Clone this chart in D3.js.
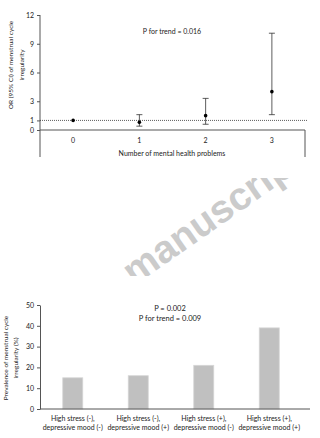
<!DOCTYPE html>
<html>
<head>
<meta charset="utf-8">
<script src="https://cdn.jsdelivr.net/npm/d3@7"></script>
<style>
body { margin: 0; background: #fff; }
svg text { font-family: Lato, "Open Sans", sans-serif; fill: #222; }
</style>
</head>
<body>
<script>
// top panel : OR by number of mental health problems
var problems = ["0", "1", "2", "3"];
var orValues = [1.0, 0.8, 1.5, 4.0];
var ciLow = [1.0, 0.4, 0.6, 1.6];
var ciHigh = [1.0, 1.6, 3.3, 10.1];
var orTicks = [0, 1, 3, 6, 9, 12];

// bottom panel : prevalence by stress / mood group
var groups = [
	["High stress (-),", "depressive mood (-)"],
	["High stress (-),", "depressive mood (+)"],
	["High stress (+),", "depressive mood (-)"],
	["High stress (+),", "depressive mood (+)"]
];
var prevalence = [15, 16, 21, 39];
var prevTicks = [0, 10, 20, 30, 40, 50];

var svg = d3.select("body").append("svg")
	.attr("width", 320)
	.attr("height", 438);

//--- watermark (only the part between the two figures shows)
svg.append("clipPath").attr("id", "wm")
	.append("rect").attr("x", 0).attr("y", 178).attr("width", 320).attr("height", 98);
svg.append("g")
	.attr("clip-path", "url(#wm)")
	.append("text")
	.attr("transform", "translate(134,286) rotate(-35)")
	.style("font-size", "39px")
	.style("font-weight", "bold")
	.style("font-family", "'Liberation Sans', Arial, sans-serif")
	.style("fill", "#cbcbcb")
	.text("manuscript");

//--- top chart
var xTop = d3.scaleBand().domain(problems).range([40, 305]);
var yTop = d3.scaleLinear().domain([0, 12]).range([130, 15]);

var gTop = svg.append("g");

gTop.append("g")
	.attr("transform", "translate(40,0)")
	.call(d3.axisLeft(yTop).tickValues(orTicks).tickSize(3).tickSizeOuter(0))
	.call(function (g) {
		g.select(".domain").remove();
		g.selectAll("line").attr("stroke", "#555");
		g.selectAll("text").style("font-size", "7px").attr("font-family", null);
	});

// axis frame lines
gTop.append("line").attr("x1", 40).attr("x2", 40).attr("y1", yTop(12)).attr("y2", 157).attr("stroke", "#555");
gTop.append("line").attr("x1", 305).attr("x2", 305).attr("y1", yTop(0)).attr("y2", 157).attr("stroke", "#555");
gTop.append("line").attr("x1", 40).attr("x2", 305).attr("y1", yTop(0)).attr("y2", yTop(0)).attr("stroke", "#555");

// reference line at OR = 1
gTop.append("line")
	.attr("x1", 40).attr("x2", 307)
	.attr("y1", yTop(1)).attr("y2", yTop(1))
	.attr("stroke", "#333")
	.attr("stroke-width", 0.8)
	.attr("stroke-dasharray", "1,1");

gTop.selectAll(".xlab")
	.data(problems)
	.enter()
	.append("text")
	.attr("x", function (d) { return xTop(d) + xTop.bandwidth() / 2; })
	.attr("y", 143)
	.attr("text-anchor", "middle")
	.style("font-size", "7px")
	.text(function (d) { return d; });

// error bars
var idx = d3.range(problems.length).filter(function (i) { return ciHigh[i] > ciLow[i]; });
var cx = function (i) { return xTop(problems[i]) + xTop.bandwidth() / 2; };
gTop.selectAll(".eb")
	.data(idx)
	.enter()
	.append("path")
	.attr("fill", "none")
	.attr("stroke", "#333")
	.attr("stroke-width", 0.8)
	.attr("d", function (i) {
		var x = cx(i), y1 = yTop(ciHigh[i]), y2 = yTop(ciLow[i]);
		return "M" + (x - 3) + "," + y1 + "H" + (x + 3) + "M" + x + "," + y1 + "V" + y2 +
			"M" + (x - 3) + "," + y2 + "H" + (x + 3);
	});

gTop.selectAll(".pt")
	.data(orValues)
	.enter()
	.append("circle")
	.attr("cx", function (d, i) { return cx(i); })
	.attr("cy", function (d) { return yTop(d); })
	.attr("r", 1.8)
	.attr("fill", "#000");

gTop.append("text")
	.attr("x", 172).attr("y", 34)
	.attr("text-anchor", "middle")
	.style("font-size", "7px")
	.text("P for trend = 0.016");

gTop.append("text")
	.attr("x", 172).attr("y", 156)
	.attr("text-anchor", "middle")
	.style("font-size", "7px")
	.text("Number of mental health problems");

gTop.append("text")
	.attr("transform", "translate(13,65) rotate(-90)")
	.attr("text-anchor", "middle")
	.style("font-size", "6.5px")
	.selectAll("tspan")
	.data(["OR (95% CI) of menstrual cycle", "irregularity"])
	.enter()
	.append("tspan")
	.attr("x", 0)
	.attr("dy", function (d, i) { return i ? 10.5 : 0; })
	.text(function (d) { return d; });

//--- bottom chart
var xBand = d3.scaleBand().domain(d3.range(groups.length)).range([40, 302]);
var yBot = d3.scaleLinear().domain([0, 50]).range([409, 305]);

var gBot = svg.append("g");

gBot.append("g")
	.attr("transform", "translate(40,0)")
	.call(d3.axisLeft(yBot).tickValues(prevTicks).tickSize(3).tickSizeOuter(0))
	.call(function (g) {
		g.select(".domain").attr("stroke", "#555");
		g.selectAll("line").attr("stroke", "#555");
		g.selectAll("text").style("font-size", "7px").attr("font-family", null);
	});

gBot.selectAll(".bar")
	.data(prevalence)
	.enter()
	.append("rect")
	.attr("x", function (d, i) { return xBand(i) + xBand.bandwidth() / 2 - 10; })
	.attr("width", 20)
	.attr("y", function (d) { return yBot(d); })
	.attr("height", function (d) { return yBot(0) - yBot(d); })
	.attr("fill", "#c0c0c0")
	.attr("stroke", "#d6d6d6")
	.attr("stroke-width", 0.8);

gBot.append("line").attr("x1", 40).attr("x2", 310).attr("y1", yBot(0)).attr("y2", yBot(0)).attr("stroke", "#555");

gBot.selectAll(".glab")
	.data(groups)
	.enter()
	.append("text")
	.attr("text-anchor", "middle")
	.attr("transform", function (d, i) { return "translate(" + (xBand(i) + xBand.bandwidth() / 2) + ",421)"; })
	.style("font-size", "7px")
	.selectAll("tspan")
	.data(function (d) { return d; })
	.enter()
	.append("tspan")
	.attr("x", 0)
	.attr("dy", function (d, i) { return i ? 8.5 : 0; })
	.text(function (d) { return d; });

gBot.selectAll(".ptxt")
	.data(["P = 0.002", "P for trend = 0.009"])
	.enter()
	.append("text")
	.attr("x", 170)
	.attr("y", function (d, i) { return 311 + i * 10; })
	.attr("text-anchor", "middle")
	.style("font-size", "7.5px")
	.text(function (d) { return d; });

gBot.append("text")
	.attr("transform", "translate(8,358) rotate(-90)")
	.attr("text-anchor", "middle")
	.style("font-size", "6.5px")
	.selectAll("tspan")
	.data(["Prevalence of menstrual cycle", "irregularity (%)"])
	.enter()
	.append("tspan")
	.attr("x", 0)
	.attr("dy", function (d, i) { return i ? 10 : 0; })
	.text(function (d) { return d; });
</script>
</body>
</html>
